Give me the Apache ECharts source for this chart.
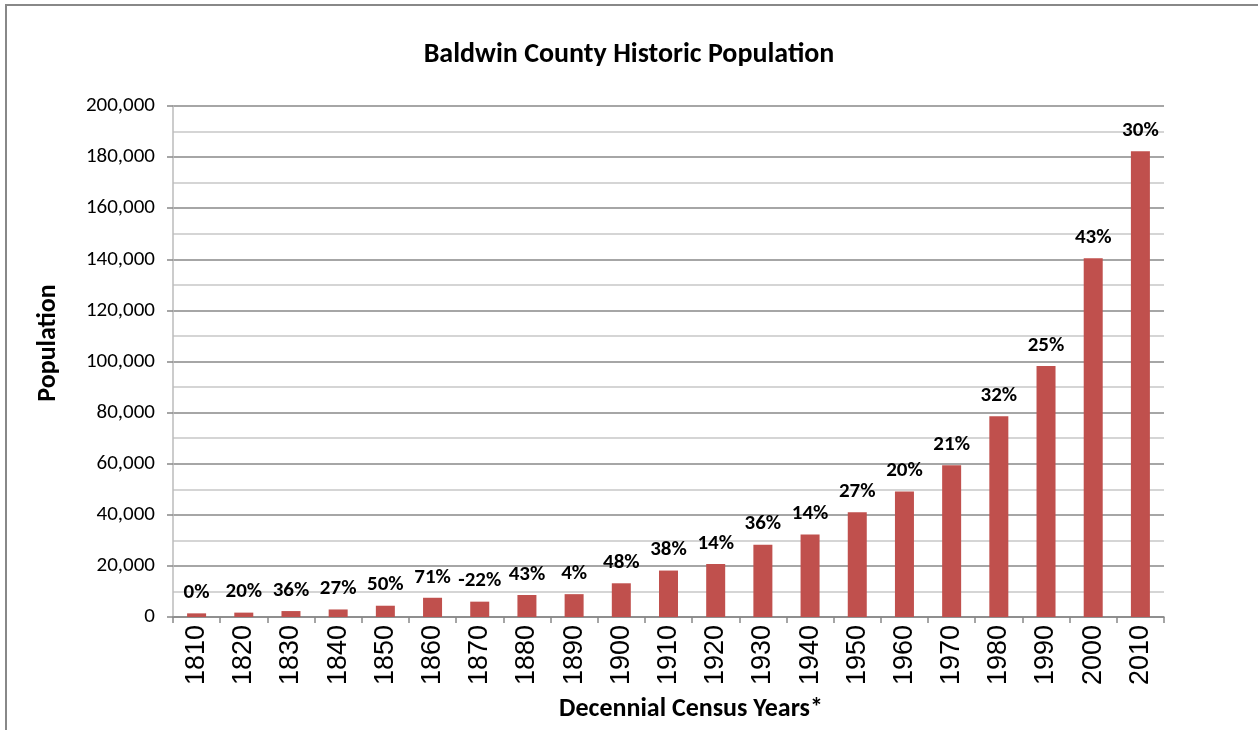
<!DOCTYPE html>
<html>
<head>
<meta charset="utf-8">
<script src="https://cdn.jsdelivr.net/npm/echarts@6/dist/echarts.min.js"></script>
<style>
  html, body { margin: 0; padding: 0; background: #fff; }
  #chart { width: 1258px; height: 730px; }
</style>
</head>
<body>
<div id="chart"></div>
<script>
// census years and population
const years = ["1810", "1820", "1830", "1840", "1850", "1860", "1870", "1880", "1890", "1900", "1910",
  "1920", "1930", "1940", "1950", "1960", "1970", "1980", "1990", "2000", "2010"];
const population = [1427, 1713, 2324, 2951, 4414, 7530, 6004, 8603, 8941, 13194, 18178,
  20730, 28289, 32324, 40997, 49088, 59382, 78556, 98280, 140415, 182265];
const growth = ["0%", "20%", "36%", "27%", "50%", "71%", "-22%", "43%", "4%", "48%", "38%",
  "14%", "36%", "14%", "27%", "20%", "21%", "32%", "25%", "43%", "30%"];

const calibri = "Carlito, Lato, 'Open Sans', sans-serif";
const arial = "'Liberation Sans', Arial, sans-serif";

const myChart = echarts.init(document.getElementById("chart"));
myChart.setOption({
  animation: false,
  title: {
    text: "Baldwin County Historic Population",
    left: "center",
    top: 36,
    textStyle: { fontFamily: calibri, fontWeight: "bold", fontSize: 28, color: "#000" },
  },
  grid: { left: 173, right: 94, top: 106, bottom: 113 },
  graphic: [
    {
      type: "rect",
      shape: { x: 6, y: 5, width: 1300, height: 800 },
      style: { fill: "none", stroke: "#888", lineWidth: 2 },
    },
    {
      type: "text",
      x: 48,
      y: 343,
      rotation: Math.PI / 2,
      style: {
        text: "Population",
        fontFamily: calibri,
        fontWeight: "bold",
        fontSize: 26,
        fill: "#000",
        align: "center",
        verticalAlign: "middle",
      },
    },
    {
      type: "text",
      x: 691,
      y: 709,
      style: {
        text: "Decennial Census Years*",
        fontFamily: calibri,
        fontWeight: "bold",
        fontSize: 26,
        fill: "#000",
        align: "center",
        verticalAlign: "middle",
      },
    },
  ],
  xAxis: {
    type: "category",
    data: years,
    axisLine: { lineStyle: { color: "#888", width: 1.5 } },
    axisTick: { show: true, length: 6, lineStyle: { color: "#888", width: 1.5 } },
    axisLabel: {
      rotate: 90,
      margin: 8,
      interval: 0,
      fontFamily: arial,
      fontSize: 27,
      color: "#000",
    },
  },
  yAxis: {
    type: "value",
    min: 0,
    max: 200000,
    interval: 20000,
    axisLine: { show: true, lineStyle: { color: "#bbb", width: 1.5 } },
    axisTick: { show: true, length: 6, lineStyle: { color: "#888", width: 1.5 } },
    axisLabel: {
      margin: 18,
      fontFamily: calibri,
      fontSize: 21,
      color: "#000",
      formatter: (v) => v.toLocaleString("en-US"),
    },
    splitLine: { lineStyle: { color: "#888", width: 1.5 } },
    minorTick: { show: false, splitNumber: 2 },
    minorSplitLine: { show: true, lineStyle: { color: "#c8c8c8", width: 1.5 } },
  },
  series: [
    {
      type: "bar",
      data: population,
      barWidth: 19,
      itemStyle: { color: "#C0504D" },
      label: {
        show: true,
        position: "top",
        distance: 10,
        fontFamily: calibri,
        fontWeight: "bold",
        fontSize: 21,
        color: "#000",
        formatter: ({ dataIndex }) => growth[dataIndex],
      },
    },
  ],
});
</script>
</body>
</html>
